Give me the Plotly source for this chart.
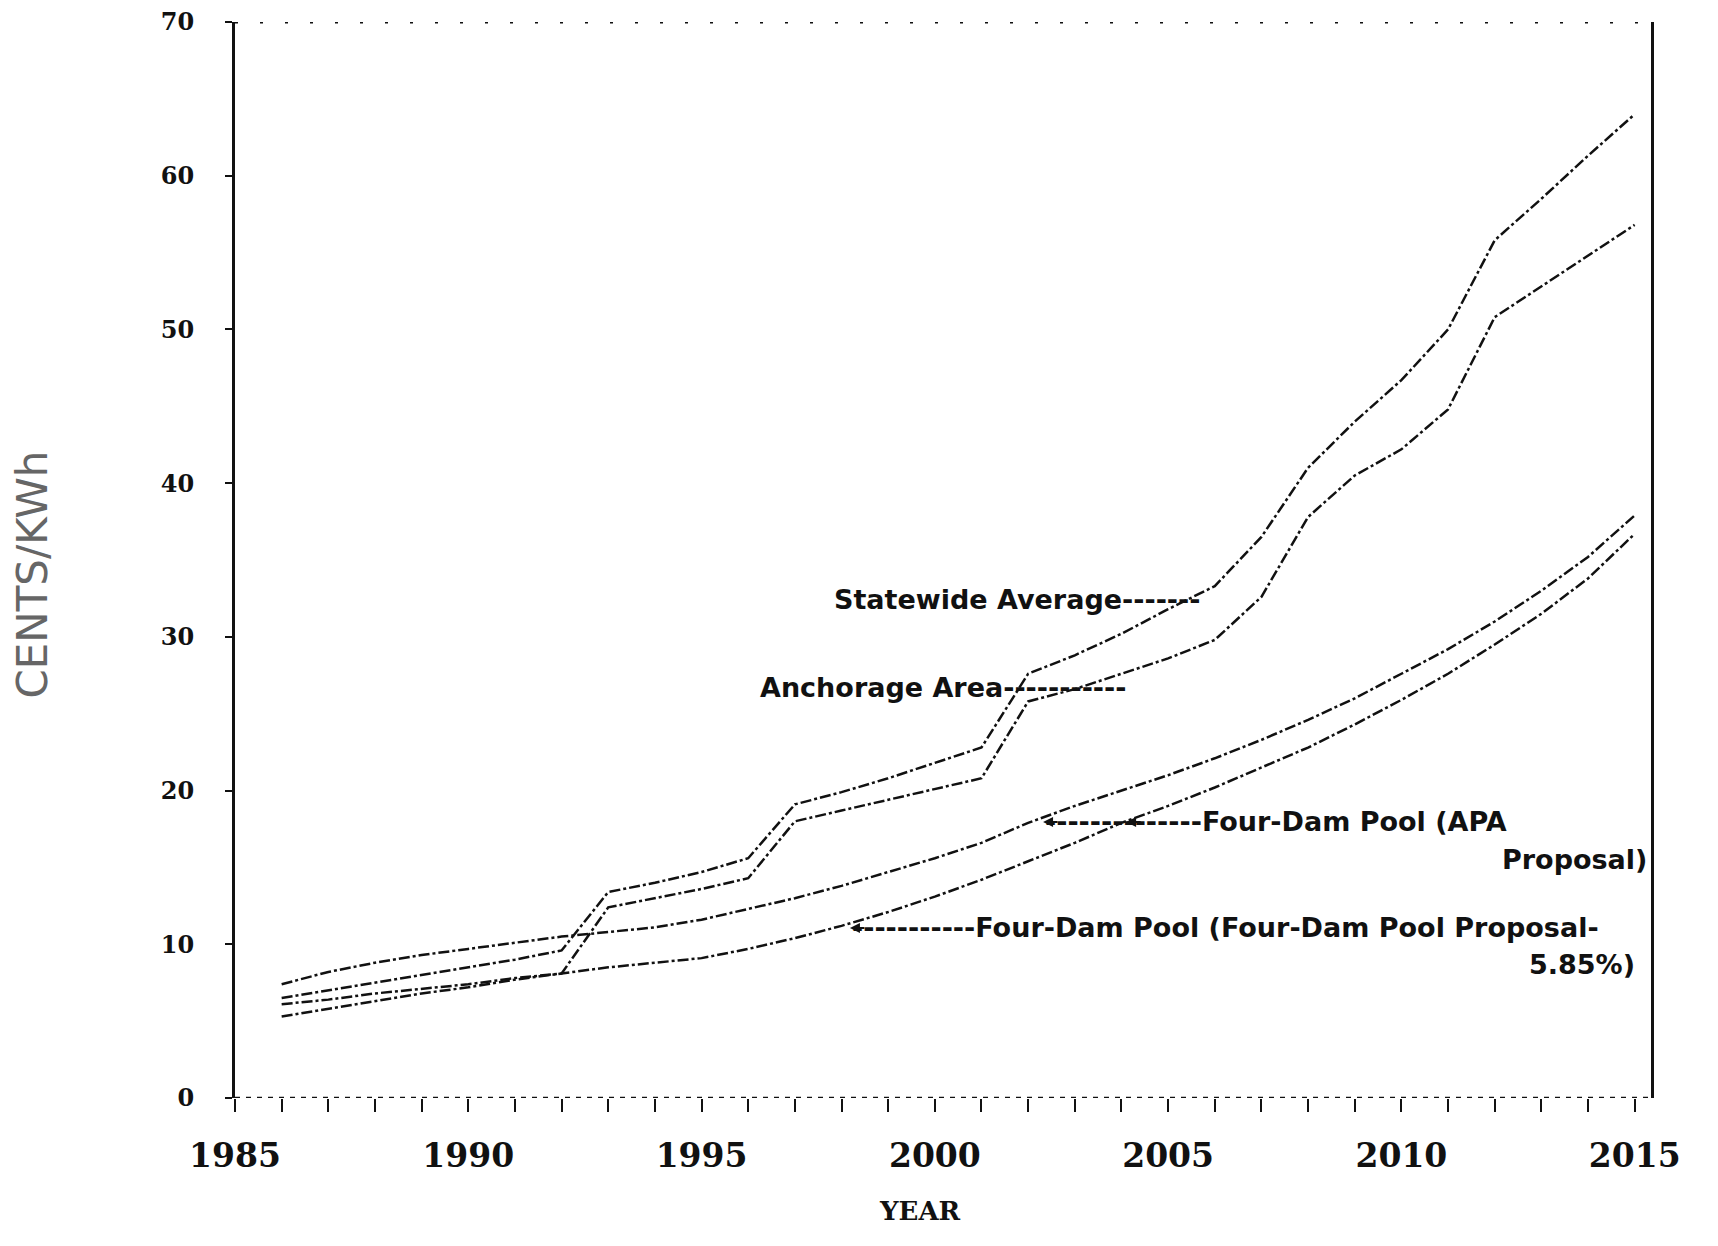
import plotly.graph_objects as go

years = list(range(1986, 2016))

statewide_average = [6.5, 7.0, 7.5, 8.0, 8.5, 9.0, 9.6, 13.4, 14.0, 14.7,
                     15.6, 19.1, 19.9, 20.8, 21.8, 22.8, 27.6, 28.8, 30.2, 31.8,
                     33.3, 36.5, 41.0, 44.0, 46.7, 50.0, 55.8, 58.5, 61.3, 64.0]

anchorage_area = [6.1, 6.4, 6.8, 7.1, 7.4, 7.8, 8.1, 12.4, 13.0, 13.6,
                  14.3, 18.0, 18.7, 19.4, 20.1, 20.8, 25.8, 26.6, 27.6, 28.6,
                  29.8, 32.6, 37.8, 40.5, 42.2, 44.8, 50.8, 52.8, 54.8, 56.8]

four_dam_apa = [7.4, 8.2, 8.8, 9.3, 9.7, 10.1, 10.5, 10.8, 11.1, 11.6,
                12.3, 13.0, 13.8, 14.7, 15.6, 16.6, 17.9, 19.0, 20.0, 21.0,
                22.1, 23.3, 24.6, 26.0, 27.6, 29.2, 31.0, 33.0, 35.2, 37.9]

four_dam_fdp = [5.3, 5.8, 6.3, 6.8, 7.2, 7.7, 8.1, 8.5, 8.8, 9.1,
                9.7, 10.4, 11.2, 12.1, 13.1, 14.2, 15.4, 16.6, 17.9, 19.0,
                20.2, 21.5, 22.8, 24.3, 25.9, 27.6, 29.5, 31.5, 33.8, 36.7]

x_ticks = [1985, 1990, 1995, 2000, 2005, 2010, 2015]
y_ticks = [0, 10, 20, 30, 40, 50, 60, 70]

INK = "#111111"
DASH = "11px,3px,3px,3px"
LABEL_FONT = dict(family="DejaVu Sans", size=27, color=INK, weight="bold")

fig = go.Figure()
for name, vals in [("Statewide Average", statewide_average),
                   ("Anchorage Area", anchorage_area),
                   ("Four-Dam Pool (APA Proposal)", four_dam_apa),
                   ("Four-Dam Pool (Four-Dam Pool Proposal-5.85%)", four_dam_fdp)]:
    fig.add_trace(go.Scatter(x=years, y=vals, mode="lines", name=name,
                             line=dict(color=INK, width=2.5, dash=DASH),
                             showlegend=False))

X_MIN, X_MAX = 1985, 2015.35

# dotted bottom and top borders
fig.add_shape(type="line", xref="x", yref="y", x0=X_MIN, x1=X_MAX, y0=0, y1=0,
              line=dict(color=INK, width=2.5, dash="5px,6px"))
fig.add_shape(type="line", xref="x", yref="y", x0=X_MIN, x1=X_MAX, y0=70, y1=70,
              line=dict(color=INK, width=3, dash="3px,22px"))

annotations = [
    dict(x=2005.75, y=32.4, text="Statewide Average-------", xanchor="right"),
    dict(x=2004.15, y=26.7, text="Anchorage Area-----------", xanchor="right"),
    dict(x=2002.32, y=17.96, text="--------------Four-Dam Pool (APA", xanchor="left"),
    dict(x=2015.3, y=15.5, text="Proposal)", xanchor="right"),
    dict(x=1998.18, y=11.06, text="-----------Four-Dam Pool (Four-Dam Pool Proposal-",
         xanchor="left"),
    dict(x=2015.05, y=8.7, text="5.85%)", xanchor="right"),
]
for a in annotations:
    fig.add_annotation(xref="x", yref="y", yanchor="middle", showarrow=False,
                       font=LABEL_FONT, **a)

# arrowheads on the leaders
for ax_, ay_ in [(2002.32, 17.96), (2004.1, 17.96), (1998.18, 11.06)]:
    fig.add_annotation(xref="x", yref="y", x=ax_, y=ay_, text="", showarrow=True,
                       arrowhead=2, arrowsize=1.0, arrowwidth=2, arrowcolor=INK,
                       ax=16, ay=0, standoff=0)

# axis titles
fig.add_annotation(xref="paper", yref="paper", x=0.4838, y=-0.105, text="YEAR",
                   showarrow=False, xanchor="center", yanchor="middle",
                   font=dict(family="DejaVu Serif", size=26, color=INK, weight="bold"))
fig.add_annotation(xref="paper", yref="paper", x=-0.143, y=0.486, text="CENTS/KWh",
                   textangle=-90, showarrow=False, xanchor="center", yanchor="middle",
                   font=dict(family="DejaVu Sans", size=42, color="#666666"))

fig.update_layout(
    width=1702, height=1230,
    margin=dict(l=227, r=59, t=14, b=140, autoexpand=False),
    paper_bgcolor="white", plot_bgcolor="white",
    xaxis=dict(range=[X_MIN, X_MAX], tickvals=x_ticks, ticktext=[str(v) for v in x_ticks],
               showgrid=False, zeroline=False, showline=False, automargin=False,
               ticks="outside", ticklen=13, tickwidth=2, tickcolor=INK,
               minor=dict(dtick=1, tick0=1986, ticks="outside", ticklen=13,
                          tickwidth=2, tickcolor=INK, showgrid=False),
               ticklabelstandoff=15, ticklabeloverflow="allow",
               tickfont=dict(family="DejaVu Serif", size=33, color=INK, weight="bold")),
    yaxis=dict(range=[0, 70], tickvals=y_ticks, showgrid=False, zeroline=False,
               showline=True, linecolor=INK, linewidth=3, mirror=True, automargin=False,
               ticks="outside", ticklen=7, tickwidth=2, tickcolor=INK,
               ticklabelstandoff=26, ticklabeloverflow="allow",
               tickfont=dict(family="DejaVu Serif", size=24, color=INK, weight="bold")),
)

fig.write_html("out.html")
